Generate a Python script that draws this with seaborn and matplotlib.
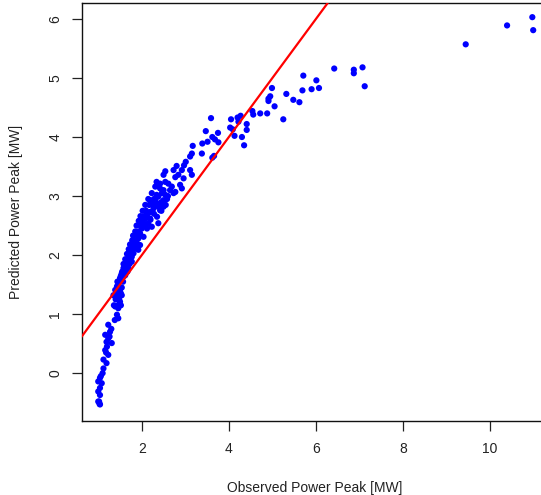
import matplotlib
matplotlib.use("Agg")
import matplotlib.pyplot as plt
import seaborn as sns
import numpy as np
import pandas as pd

# Observed vs predicted power peak [MW]
observed = [
    9.44, 10.39, 10.97, 10.99, 6.42, 6.87, 6.87, 7.07, 7.12, 5.71, 6.01, 6.07, 5.90, 5.69,
    5.32, 5.48, 5.62, 5.25, 4.99, 4.95, 4.91, 4.91, 5.05, 4.88, 4.72, 4.56, 4.54, 4.41,
    4.41, 4.30, 4.35, 4.27, 4.20, 4.22, 4.05, 4.03, 4.09, 4.13, 3.59, 3.47, 3.75, 3.62,
    3.68, 3.76, 3.51, 3.39, 3.66, 3.62, 3.38,
    3.17, 3.15, 3.11, 3.01, 2.97, 2.80, 2.73, 2.92, 3.11, 3.15, 2.54, 2.50, 2.84, 2.77,
    2.96, 2.34, 2.31, 2.54, 2.61, 2.88, 2.92, 2.77, 2.42, 2.46, 2.34, 2.23, 2.31, 2.42,
    2.50, 2.38,
    2.42, 2.69, 2.73, 2.54, 2.19, 2.38, 2.46, 2.34, 2.50, 2.42, 2.27, 2.19,
    2.12, 2.08, 2.19, 2.15, 2.04, 2.00, 2.12, 2.23, 2.38,
    1.96, 1.92, 2.04, 1.89, 1.96, 1.85, 1.92, 1.81, 1.77,
    1.69, 1.65, 1.77, 1.62, 1.58, 1.69, 1.54, 1.62, 1.50, 1.46, 1.43, 1.39, 1.50, 1.35, 1.46,
    1.50, 1.54, 1.43, 1.50, 1.39, 1.46, 1.43, 1.46,
    1.23, 1.27, 1.16, 1.23, 1.19, 1.31,
    1.16, 1.23, 1.12, 1.19, 1.12, 1.04, 1.00, 1.08, 1.04, 1.00, 1.04, 1.00, 1.04,
    1.36, 1.45, 1.52, 1.40, 1.48, 1.42, 1.52, 1.47, 1.45, 1.54, 1.49, 1.57, 1.44,
    1.52, 1.60, 1.55, 1.63, 1.67, 1.58, 1.66, 1.72, 1.62, 1.70, 1.66, 1.74, 1.78,
    1.70, 1.80, 1.73, 1.82, 1.88, 1.78, 1.85, 1.80, 1.90, 1.95, 1.85, 1.93,
    1.88, 1.97, 2.05, 1.93, 2.02, 1.97, 2.06, 2.12, 2.02, 2.10, 2.08, 2.17, 2.25,
    2.15, 2.28,
    1.38, 1.30, 1.26, 1.20, 1.18, 1.10, 1.06, 1.02, 1.03,
    2.45, 2.55, 2.35, 2.60, 2.65, 2.20, 2.28, 2.50, 2.30, 2.58,
]
predicted = [
    5.57, 5.89, 6.03, 5.81, 5.16, 5.14, 5.08, 5.18, 4.86, 5.04, 4.96, 4.83, 4.81, 4.79,
    4.73, 4.63, 4.59, 4.30, 4.83, 4.69, 4.65, 4.61, 4.52, 4.40, 4.40, 4.38, 4.44, 4.22,
    4.12, 4.00, 3.86, 4.36, 4.33, 4.26, 4.30, 4.16, 4.13, 4.02, 4.32, 4.10, 4.07, 4.00,
    3.96, 3.91, 3.92, 3.89, 3.68, 3.65, 3.72,
    3.85, 3.72, 3.67, 3.58, 3.52, 3.51, 3.44, 3.44, 3.44, 3.36, 3.42, 3.36, 3.36, 3.32,
    3.30, 3.24, 3.16, 3.24, 3.21, 3.19, 3.13, 3.07, 3.13, 3.05, 3.02, 3.05, 2.93, 2.88,
    2.93, 2.82,
    3.21, 3.16, 3.05, 3.02, 2.93, 2.99, 2.90, 2.85, 2.82, 2.76, 2.79, 2.73,
    2.71, 2.62, 2.62, 2.54, 2.54, 2.45, 2.45, 2.48, 2.54,
    2.37, 2.28, 2.31, 2.20, 2.17, 2.12, 2.09, 2.03, 1.97,
    1.95, 1.89, 1.89, 1.83, 1.78, 1.78, 1.69, 1.66, 1.61, 1.55, 1.47, 1.41, 1.41, 1.32, 1.32,
    1.38, 1.32, 1.27, 1.21, 1.13, 1.10, 0.99, 0.93,
    0.82, 0.70, 0.65, 0.59, 0.53, 0.51,
    0.39, 0.31, 0.23, 0.17, 0.08, -0.08, -0.14, -0.17, -0.25, -0.31, -0.37, -0.48, -0.53,
    1.15, 1.15, 1.15, 1.25, 1.25, 1.35, 1.35, 1.35, 1.45, 1.45, 1.55, 1.55, 1.55,
    1.65, 1.65, 1.72, 1.72, 1.72, 1.85, 1.85, 1.85, 1.93, 1.93, 2.02, 2.02, 2.02,
    2.10, 2.10, 2.18, 2.18, 2.18, 2.25, 2.25, 2.33, 2.33, 2.33, 2.40, 2.40,
    2.50, 2.50, 2.50, 2.58, 2.58, 2.66, 2.66, 2.66, 2.75, 2.75, 2.85, 2.85, 2.85,
    2.95, 2.95,
    0.90, 0.75, 0.62, 0.45, 0.35, 0.00, -0.05, -0.48, -0.52,
    2.75, 2.85, 2.65, 3.00, 3.10, 2.60, 2.70, 3.10, 2.90, 2.95,
]

# reference line y = intercept + slope * x
line_intercept = 0.0
line_slope = 1.0

x_ticks = [2, 4, 6, 8, 10]
y_ticks = [0, 1, 2, 3, 4, 5, 6]
x_label = "Observed Power Peak [MW]"
y_label = "Predicted Power Peak [MW]"

df = pd.DataFrame({"observed": observed, "predicted": predicted})

sns.set_theme(style="white")
plt.rcParams["font.family"] = ["Liberation Sans", "DejaVu Sans"]

W, H = 541, 495
fig = plt.figure(figsize=(W / 100, H / 100), dpi=100)
ax = fig.add_axes([81.7 / W, 1 - 421 / H, (548 - 81.7) / W, (421 - 3) / H])

sns.scatterplot(data=df, x="observed", y="predicted", ax=ax, color="#0000FF",
                s=20, edgecolor="none", linewidth=0, zorder=2)
ax.axline((0, line_intercept), slope=line_slope, color="#FF0000", lw=1.6, zorder=3)

ax.set_xlim(0.62, 11.33)
ax.set_ylim(-0.81, 6.27)
ax.set_xticks(x_ticks)
ax.set_yticks(y_ticks)
ax.set_yticklabels([str(t) for t in y_ticks], rotation=90, va="center")

txt = "#222222"
ax.tick_params(axis="both", direction="out", length=7, width=0.9, colors="#222222",
               labelsize=10, labelcolor=txt, left=True, bottom=True)
ax.tick_params(axis="x", pad=8)
ax.tick_params(axis="y", pad=7)

for s in ["left", "bottom", "top", "right"]:
    ax.spines[s].set_visible(True)
    ax.spines[s].set_color("#111111")
    ax.spines[s].set_linewidth(1.0)

ax.set_xlabel(x_label, fontsize=10, color=txt, labelpad=18)
ax.set_ylabel(y_label, fontsize=10, color=txt, labelpad=18)
ax.grid(False)

fig.savefig("out.png", dpi=100)
